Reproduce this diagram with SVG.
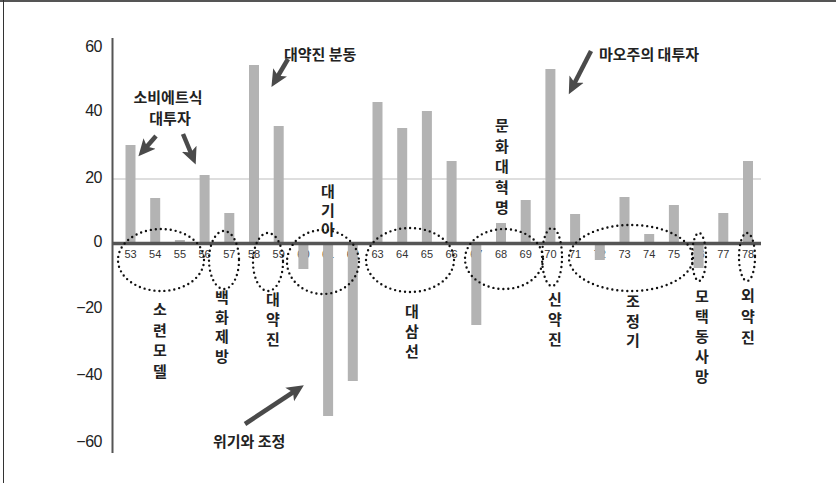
<svg xmlns="http://www.w3.org/2000/svg" width="836" height="483" viewBox="0 0 836 483">
<style>
.bar{fill:#b3b3b3}
.yl{font-family:"Liberation Sans",Arial,sans-serif;font-size:16px;fill:#222;text-anchor:end;letter-spacing:-0.5px}
.tl{font-family:"Liberation Sans",Arial,sans-serif;font-size:11px;fill:#333;text-anchor:middle}
.kt{font-family:"Noto Sans CJK KR",sans-serif;font-size:15px;font-weight:bold;fill:#222}
.vt{font-family:"Noto Sans CJK KR",sans-serif;font-size:15px;font-weight:bold;fill:#222;text-anchor:middle}
.ell{fill:none;stroke:#111;stroke-width:2.4;stroke-linecap:round;stroke-dasharray:0 5}
.arr{stroke:#4a4a4a;stroke-width:4.5;fill:none;marker-end:url(#ah)}
</style>
<defs>
<marker id="ah" markerUnits="userSpaceOnUse" markerWidth="18" markerHeight="18" refX="10" refY="9" orient="auto">
<path d="M0,1 L17,9 L0,17 L4,9 z" fill="#4a4a4a"/>
</marker>
</defs>
<rect width="836" height="483" fill="#fff"/>
<g id="frame">
<line x1="0" y1="1" x2="836" y2="1" stroke="#555" stroke-width="2"/>
<line x1="3.5" y1="0" x2="3.5" y2="483" stroke="#333" stroke-width="1"/>
</g>
<g id="y-axis">
<line x1="113" y1="179" x2="761" y2="179" stroke="#bdbdbd" stroke-width="1"/>
<line x1="112.5" y1="38" x2="112.5" y2="453" stroke="#555" stroke-width="2"/>
<text class="yl" x="102" y="52">60</text>
<text class="yl" x="102" y="116">40</text>
<text class="yl" x="102" y="183">20</text>
<text class="yl" x="102" y="247">0</text>
<text class="yl" x="102" y="313">−20</text>
<text class="yl" x="102" y="380">−40</text>
<text class="yl" x="102" y="447">−60</text>
</g>
<g id="x-labels">
<text class="tl" x="130.5" y="258">53</text>
<text class="tl" x="155.2" y="258">54</text>
<text class="tl" x="179.9" y="258">55</text>
<text class="tl" x="204.6" y="258">56</text>
<text class="tl" x="229.3" y="258">57</text>
<text class="tl" x="254" y="258">58</text>
<text class="tl" x="278.7" y="258">59</text>
<text class="tl" x="303.4" y="258">60</text>
<text class="tl" x="328.1" y="258">61</text>
<text class="tl" x="352.8" y="258">62</text>
<text class="tl" x="377.5" y="258">63</text>
<text class="tl" x="402.2" y="258">64</text>
<text class="tl" x="426.9" y="258">65</text>
<text class="tl" x="451.6" y="258">66</text>
<text class="tl" x="476.3" y="258">67</text>
<text class="tl" x="501" y="258">68</text>
<text class="tl" x="525.7" y="258">69</text>
<text class="tl" x="550.4" y="258">70</text>
<text class="tl" x="575.1" y="258">71</text>
<text class="tl" x="599.8" y="258">72</text>
<text class="tl" x="624.5" y="258">73</text>
<text class="tl" x="649.2" y="258">74</text>
<text class="tl" x="673.9" y="258">75</text>
<text class="tl" x="698.6" y="258">76</text>
<text class="tl" x="723.3" y="258">77</text>
<text class="tl" x="748" y="258">78</text>
</g>
<g id="bars">
<rect class="bar" x="125.5" y="145" width="10" height="98"/>
<rect class="bar" x="150.2" y="198" width="10" height="45"/>
<rect class="bar" x="174.9" y="240" width="10" height="3"/>
<rect class="bar" x="199.6" y="175" width="10" height="68"/>
<rect class="bar" x="224.3" y="213" width="10" height="30"/>
<rect class="bar" x="249" y="65" width="10" height="178"/>
<rect class="bar" x="273.7" y="126" width="10" height="117"/>
<rect class="bar" x="298.4" y="243" width="10" height="26"/>
<rect class="bar" x="323.1" y="243" width="10" height="173"/>
<rect class="bar" x="347.8" y="243" width="10" height="138"/>
<rect class="bar" x="372.5" y="102" width="10" height="141"/>
<rect class="bar" x="397.2" y="128" width="10" height="115"/>
<rect class="bar" x="421.9" y="111" width="10" height="132"/>
<rect class="bar" x="446.6" y="161" width="10" height="82"/>
<rect class="bar" x="471.3" y="243" width="10" height="82"/>
<rect class="bar" x="496" y="223" width="10" height="20"/>
<rect class="bar" x="520.7" y="200" width="10" height="43"/>
<rect class="bar" x="545.4" y="69" width="10" height="174"/>
<rect class="bar" x="570.1" y="214" width="10" height="29"/>
<rect class="bar" x="594.8" y="243" width="10" height="17"/>
<rect class="bar" x="619.5" y="197" width="10" height="46"/>
<rect class="bar" x="644.2" y="234" width="10" height="9"/>
<rect class="bar" x="668.9" y="205" width="10" height="38"/>
<rect class="bar" x="693.6" y="243" width="10" height="25"/>
<rect class="bar" x="718.3" y="213" width="10" height="30"/>
<rect class="bar" x="743" y="161" width="10" height="82"/>
</g>
<g id="x-axis">
<line x1="112" y1="243.5" x2="761" y2="243.5" stroke="#555" stroke-width="3.5"/>
</g>
<g id="period-soviet-model">
<ellipse class="ell" cx="161" cy="260" rx="43" ry="31"/>
<text class="vt" x="160" y="315">소<tspan x="160" dy="20.5">련</tspan><tspan x="160" dy="20.5">모</tspan><tspan x="160" dy="20.5">델</tspan></text>
</g>
<g id="period-hundred-flowers">
<ellipse class="ell" cx="224" cy="260" rx="15" ry="29"/>
<text class="vt" x="222" y="303">백<tspan x="222" dy="19.7">화</tspan><tspan x="222" dy="19.7">제</tspan><tspan x="222" dy="19.7">방</tspan></text>
</g>
<g id="period-great-leap">
<ellipse class="ell" cx="268" cy="262" rx="15" ry="29"/>
<text class="vt" x="273" y="305">대<tspan x="273" dy="20">약</tspan><tspan x="273" dy="20">진</tspan></text>
</g>
<g id="period-famine">
<ellipse class="ell" cx="323" cy="262" rx="36" ry="32"/>
<text class="vt" x="328" y="197">대<tspan x="328" dy="19">기</tspan><tspan x="328" dy="19">아</tspan></text>
</g>
<g id="period-third-front">
<ellipse class="ell" cx="410" cy="260" rx="44" ry="32"/>
<text class="vt" x="412" y="317">대<tspan x="412" dy="20">삼</tspan><tspan x="412" dy="20">선</tspan></text>
</g>
<g id="period-cultural-revolution">
<ellipse class="ell" cx="504" cy="259" rx="39" ry="30"/>
<text class="vt" x="502" y="131">문<tspan x="502" dy="20.5">화</tspan><tspan x="502" dy="20.5">대</tspan><tspan x="502" dy="20.5">혁</tspan><tspan x="502" dy="20.5">명</tspan></text>
</g>
<g id="period-new-leap">
<ellipse class="ell" cx="552" cy="257" rx="10" ry="29"/>
<text class="vt" x="555" y="305">신<tspan x="555" dy="20">약</tspan><tspan x="555" dy="20">진</tspan></text>
</g>
<g id="period-adjustment">
<ellipse class="ell" cx="631" cy="258" rx="62" ry="33"/>
<text class="vt" x="633" y="307">조<tspan x="633" dy="19.5">정</tspan><tspan x="633" dy="19.5">기</tspan></text>
</g>
<g id="period-mao-death">
<ellipse class="ell" cx="699" cy="257" rx="7" ry="24"/>
<text class="vt" x="702" y="302">모<tspan x="702" dy="20">택</tspan><tspan x="702" dy="20">동</tspan><tspan x="702" dy="20">사</tspan><tspan x="702" dy="20">망</tspan></text>
</g>
<g id="period-foreign-leap">
<ellipse class="ell" cx="747" cy="257" rx="8" ry="24"/>
<text class="vt" x="748" y="301">외<tspan x="748" dy="21">약</tspan><tspan x="748" dy="21">진</tspan></text>
</g>
<g id="note-soviet-investment">
<text class="kt" x="168" y="103" text-anchor="middle">소비에트식</text>
<text class="kt" x="170" y="124" text-anchor="middle">대투자</text>
</g>
<g id="note-great-leap">
<text class="kt" x="284" y="60">대약진 분동</text>
</g>
<g id="note-maoist-investment">
<text class="kt" x="599" y="60">마오주의 대투자</text>
</g>
<g id="note-crisis">
<text class="kt" x="213" y="447">위기와 조정</text>
</g>
<g id="connectors">
<line class="arr" x1="156" y1="136" x2="143" y2="151"/>
<line class="arr" x1="183" y1="134" x2="193" y2="158"/>
<line class="arr" x1="288" y1="59" x2="275" y2="81"/>
<line class="arr" x1="591" y1="51" x2="572" y2="88"/>
<line class="arr" x1="245" y1="424" x2="298" y2="389"/>
</g>
</svg>
